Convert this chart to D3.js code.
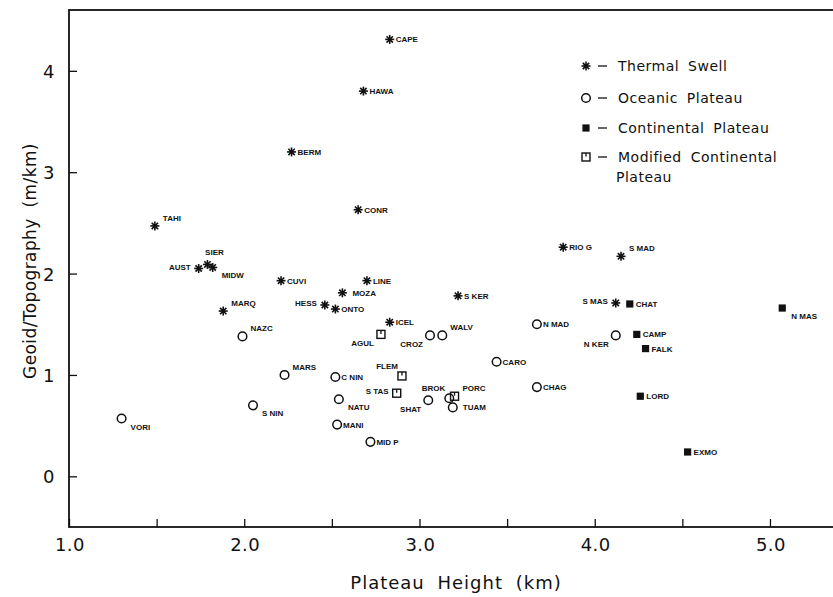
<!DOCTYPE html>
<html>
<head>
<meta charset="utf-8">
<script src="https://cdn.jsdelivr.net/npm/d3@7"></script>
<style>
    body { margin: 0; background: #fff; }
    svg { display: block; }
    .tick-label { font-family: "DejaVu Sans", sans-serif; font-size: 18px; fill: #111; letter-spacing: 0.5px; }
    .axis-title { font-family: "DejaVu Sans", sans-serif; font-size: 18px; fill: #111; letter-spacing: 1px; word-spacing: 6px; }
    .y-title { font-size: 17px; letter-spacing: 0.4px; word-spacing: 5px; }
    .legend-text { font-family: "DejaVu Sans", sans-serif; font-size: 14px; fill: #111; letter-spacing: 0.5px; word-spacing: 4px; }
    .pt-label { font-family: "Liberation Sans", Arial, sans-serif; font-size: 8px; font-weight: bold; fill: #111; }
</style>
</head>
<body>
<div id="chart"></div>
<script>
// plateau height (km), geoid/topography ratio (m/km)
let thermalSwell = [
    { name: "CAPE", h: 2.83, g: 4.31 },
    { name: "HAWA", h: 2.68, g: 3.80 },
    { name: "BERM", h: 2.27, g: 3.20 },
    { name: "CONR", h: 2.65, g: 2.63 },
    { name: "TAHI", h: 1.49, g: 2.47 },
    { name: "SIER", h: 1.79, g: 2.09 },
    { name: "AUST", h: 1.74, g: 2.05 },
    { name: "MIDW", h: 1.82, g: 2.06 },
    { name: "CUVI", h: 2.21, g: 1.93 },
    { name: "LINE", h: 2.70, g: 1.93 },
    { name: "MOZA", h: 2.56, g: 1.81 },
    { name: "HESS", h: 2.46, g: 1.69 },
    { name: "ONTO", h: 2.52, g: 1.65 },
    { name: "MARQ", h: 1.88, g: 1.63 },
    { name: "ICEL", h: 2.83, g: 1.52 },
    { name: "S KER", h: 3.22, g: 1.78 },
    { name: "RIO G", h: 3.82, g: 2.26 },
    { name: "S MAD", h: 4.15, g: 2.17 },
    { name: "S MAS", h: 4.12, g: 1.71 }
];

let oceanicPlateau = [
    { name: "NAZC", h: 1.99, g: 1.38 },
    { name: "VORI", h: 1.30, g: 0.57 },
    { name: "S NIN", h: 2.05, g: 0.70 },
    { name: "MARS", h: 2.23, g: 1.00 },
    { name: "C NIN", h: 2.52, g: 0.98 },
    { name: "NATU", h: 2.54, g: 0.76 },
    { name: "MANI", h: 2.53, g: 0.51 },
    { name: "MID P", h: 2.72, g: 0.34 },
    { name: "CROZ", h: 3.06, g: 1.39 },
    { name: "WALV", h: 3.13, g: 1.39 },
    { name: "SHAT", h: 3.05, g: 0.75 },
    { name: "BROK", h: 3.17, g: 0.77 },
    { name: "TUAM", h: 3.19, g: 0.68 },
    { name: "CARO", h: 3.44, g: 1.13 },
    { name: "CHAG", h: 3.67, g: 0.88 },
    { name: "N MAD", h: 3.67, g: 1.50 },
    { name: "N KER", h: 4.12, g: 1.39 }
];

let continentalPlateau = [
    { name: "CHAT", h: 4.20, g: 1.70 },
    { name: "CAMP", h: 4.24, g: 1.40 },
    { name: "FALK", h: 4.29, g: 1.26 },
    { name: "LORD", h: 4.26, g: 0.79 },
    { name: "EXMO", h: 4.53, g: 0.24 },
    { name: "N MAS", h: 5.07, g: 1.66 }
];

let modifiedPlateau = [
    { name: "AGUL", h: 2.78, g: 1.40 },
    { name: "FLEM", h: 2.90, g: 0.99 },
    { name: "S TAS", h: 2.87, g: 0.82 },
    { name: "PORC", h: 3.20, g: 0.79 }
];

// which side of its marker each name sits on
let labelSide = {
    "TAHI": "ur", "SIER": "above", "AUST": "l", "MIDW": "lr", "MOZA": "rg",
    "HESS": "l", "MARQ": "ur", "S MAD": "ur", "S MAS": "l",
    "NAZC": "ur", "VORI": "lr", "S NIN": "lr", "MARS": "ur", "NATU": "lr",
    "CROZ": "ll", "WALV": "ur", "SHAT": "ll", "BROK": "ul", "TUAM": "rg",
    "N KER": "ll", "N MAS": "lr",
    "AGUL": "ll", "FLEM": "ul", "S TAS": "l", "PORC": "ur"
};

let categories = ["Thermal Swell", "Oceanic Plateau", "Continental Plateau", "Modified Continental Plateau"];
let xTicks = [1, 1.5, 2, 2.5, 3, 3.5, 4, 4.5, 5];
let xTickLabels = ["1.0", "2.0", "3.0", "4.0", "5.0"];
let yTicks = [0, 1, 2, 3, 4];

let WIDTH = 833, HEIGHT = 597;

let svg = d3.select("#chart").append("svg")
    .attr("width", WIDTH)
    .attr("height", HEIGHT);

let x = d3.scaleLinear().domain([1, 5.5]).range([69, 857.6]);
let y = d3.scaleLinear().domain([-0.5, 4.6]).range([527, 10]);

// frame
svg.append("rect")
    .attr("x", x(1)).attr("y", y(4.6))
    .attr("width", x(5.5) - x(1)).attr("height", y(-0.5) - y(4.6))
    .attr("fill", "none").attr("stroke", "#111").attr("stroke-width", 1.8);

// inward ticks on bottom and left
let xAxis = d3.axisTop(x).tickValues(xTicks).tickSize(8).tickFormat("");
svg.append("g").attr("transform", `translate(0,${y(-0.5)})`).call(xAxis)
    .call(g => g.select(".domain").remove())
    .call(g => g.selectAll("line").attr("stroke", "#111").attr("stroke-width", 1.3));

let yAxis = d3.axisRight(y).tickValues(yTicks).tickSize(8).tickFormat("");
svg.append("g").attr("transform", `translate(${x(1)},0)`).call(yAxis)
    .call(g => g.select(".domain").remove())
    .call(g => g.selectAll("line").attr("stroke", "#111").attr("stroke-width", 1.3));

svg.append("g").selectAll("text")
    .data(xTickLabels)
    .join("text")
    .attr("class", "tick-label")
    .attr("x", d => x(+d) + 1)
    .attr("y", y(-0.5) + 24)
    .attr("text-anchor", "middle")
    .text(d => d);

svg.append("g").selectAll("text")
    .data(yTicks)
    .join("text")
    .attr("class", "tick-label")
    .attr("x", x(1) - 14)
    .attr("y", d => y(d) + 7)
    .attr("text-anchor", "end")
    .text(d => d);

svg.append("text")
    .attr("class", "axis-title")
    .attr("x", 456)
    .attr("y", 589)
    .attr("text-anchor", "middle")
    .text("Plateau Height (km)");

svg.append("text")
    .attr("class", "axis-title y-title")
    .attr("transform", `translate(36,261) rotate(-90)`)
    .attr("text-anchor", "middle")
    .text("Geoid/Topography (m/km)");

// marker drawers, one per category
function drawStar(g) {
    [0, 45, 90, 135].forEach(a => {
        g.append("line")
            .attr("x1", -4.5).attr("x2", 4.5)
            .attr("transform", `rotate(${a})`)
            .attr("stroke", "#111").attr("stroke-width", 1.6);
    });
    g.append("circle").attr("r", 2).attr("fill", "#111");
}
function drawCircle(g) {
    g.append("circle").attr("r", 4.3)
        .attr("fill", "none").attr("stroke", "#111").attr("stroke-width", 1.5);
}
function drawFilled(g) {
    g.append("rect").attr("x", -3.6).attr("y", -3.6).attr("width", 7.2).attr("height", 7.2)
        .attr("fill", "#111");
}
function drawOpenSquare(g) {
    g.append("rect").attr("x", -4).attr("y", -4).attr("width", 8).attr("height", 8)
        .attr("fill", "none").attr("stroke", "#111").attr("stroke-width", 1.4);
    g.append("line").attr("x1", 0).attr("x2", 0).attr("y1", -4).attr("y2", -0.5)
        .attr("stroke", "#111").attr("stroke-width", 1.3);
}

let drawers = [drawStar, drawCircle, drawFilled, drawOpenSquare];
let groups = [thermalSwell, oceanicPlateau, continentalPlateau, modifiedPlateau];

// label offset for each side keyword: dx, dy (baseline), anchor
let sides = {
    r: [6, 3, "start"],
    rg: [10, 3, "start"],
    ur: [8, -5, "start"],
    lr: [9, 11, "start"],
    l: [-8, 1, "end"],
    ll: [-7, 12, "end"],
    ul: [-4, -7, "end"],
    above: [7, -9, "middle"]
};

let points = svg.append("g").attr("class", "points");
groups.forEach((data, i) => {
    let sel = points.selectAll(`g.cat-${i}`)
        .data(data)
        .join("g")
        .attr("class", `cat-${i}`)
        .attr("transform", d => `translate(${x(d.h)},${y(d.g)})`);
    sel.each(function() { drawers[i](d3.select(this)); });
    sel.append("text")
        .attr("class", "pt-label")
        .each(function(d) {
            let s = sides[labelSide[d.name] || "r"];
            d3.select(this).attr("x", s[0]).attr("y", s[1]).attr("text-anchor", s[2]);
        })
        .text(d => d.name);
});

// legend
let legendY = [66, 98, 128, 157];
let legend = svg.append("g").attr("class", "legend");
categories.forEach((name, i) => {
    let g = legend.append("g").attr("transform", `translate(586,${legendY[i]})`);
    drawers[i](g);
    g.append("line").attr("x1", 12).attr("x2", 21)
        .attr("stroke", "#111").attr("stroke-width", 1.3);
    let words = i === 3 ? ["Modified Continental", "Plateau"] : [name];
    words.forEach((w, j) => {
        g.append("text")
            .attr("class", "legend-text")
            .attr("x", 32 - j * 2)
            .attr("y", 5 + j * 20)
            .text(w);
    });
});
</script>
</body>
</html>
